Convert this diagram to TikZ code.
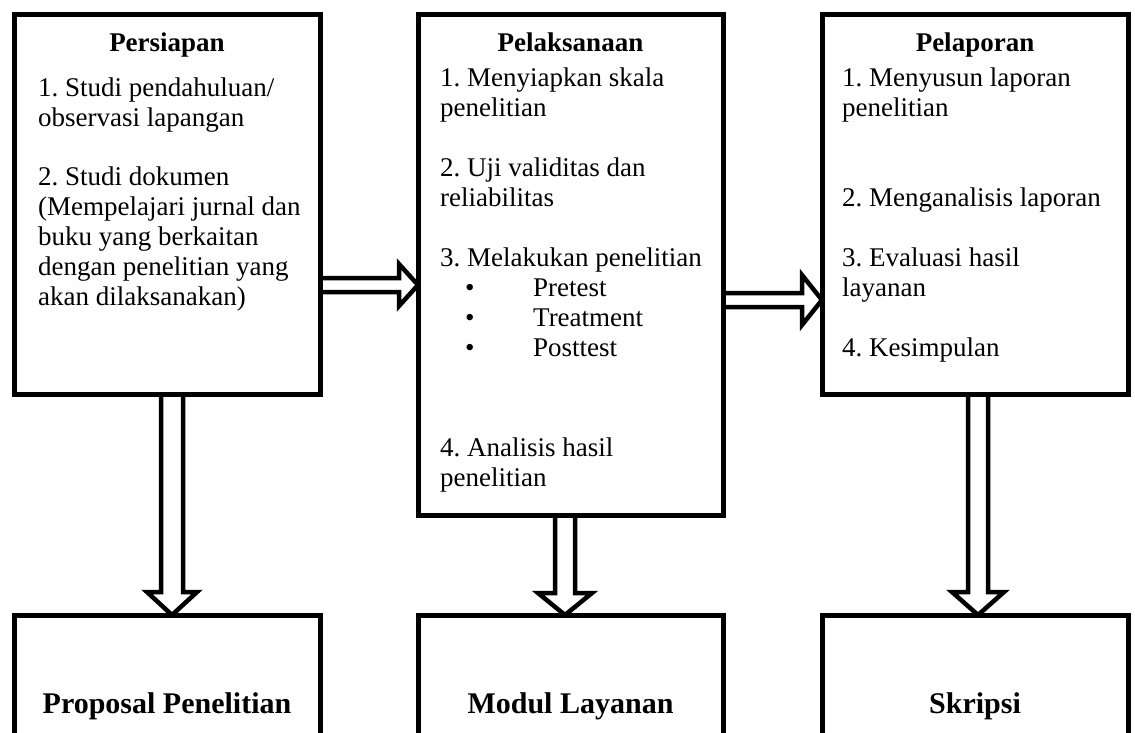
\documentclass[tikz,border=0pt]{standalone}
\usepackage{fontspec}
\setmainfont{Liberation Serif}
\usetikzlibrary{calc}
\frenchspacing
\begin{document}
\begin{tikzpicture}[x=1pt,y=-1pt,
  box/.style={draw, line width=5pt, outer sep=0pt, inner sep=0pt},
  hd/.style={font=\fontsize{27}{30}\selectfont\bfseries, anchor=base, inner sep=0pt},
  tx/.style={font=\fontsize{27}{30}\selectfont, anchor=base west, inner sep=0pt},
  bighd/.style={font=\fontsize{30}{34}\selectfont\bfseries, inner sep=0pt},
  harrow/.style n args={3}{line width=4.5pt, line join=miter,
    to path={++(0,-#1) -- ($(\tikztotarget)+(-#3,-#1)$) -- ++(0,{#1-#2}) -- (\tikztotarget)
      -- ++(-#3,#2) -- ++(0,{#1-#2}) -- ($(\tikztostart)+(0,#1)$)}},
  varrow/.style n args={3}{line width=4.5pt, line join=miter,
    to path={++(-#1,0) -- ($(\tikztotarget)+(-#1,-#3)$) -- ++({#1-#2},0) -- (\tikztotarget)
      -- ++(#2,-#3) -- ++({#1-#2},0) -- ($(\tikztostart)+(#1,0)$)}}
]
\useasboundingbox (0,0) rectangle (1135,732);
\clip (0,0) rectangle (1135,732);

% main boxes
\node[box, minimum width=306pt, minimum height=380pt] (b1) at (167,204) {};
\node[box, minimum width=305pt, minimum height=501pt] (b2) at (570.5,264.5) {};
\node[box, minimum width=306pt, minimum height=380pt] (b3) at (975,204) {};

% bottom boxes
\node[box, minimum width=306pt, minimum height=200pt] (p1) at (167,715) {};
\node[box, minimum width=305pt, minimum height=200pt] (p2) at (570.5,715) {};
\node[box, minimum width=306pt, minimum height=200pt] (p3) at (975,715) {};

% box 1 text
\node[hd] (h1) at (167,51) {Persiapan};
\node[tx] (a1) at (38,96) {1. Studi pendahuluan/};
\node[tx] (a2) at (38,126) {observasi lapangan};
\node[tx] (a3) at (38,185) {2. Studi dokumen};
\node[tx] (a4) at (38,215) {(Mempelajari jurnal dan};
\node[tx] (a5) at (38,245) {buku yang berkaitan};
\node[tx] (a6) at (38,275) {dengan penelitian yang};
\node[tx] (a7) at (38,305) {akan dilaksanakan)};

% box 2 text
\node[hd] (h2) at (570.5,51) {Pelaksanaan};
\node[tx] (c1) at (440,86) {1. Menyiapkan skala};
\node[tx] (c2) at (440,116) {penelitian};
\node[tx] (c3) at (440,176) {2. Uji validitas dan};
\node[tx] (c4) at (440,206) {reliabilitas};
\node[tx] (c5) at (440,266) {3. Melakukan penelitian};
\node[tx] (d1) at (465,296) {•};
\node[tx] (c6) at (533,296) {Pretest};
\node[tx] (d2) at (465,326) {•};
\node[tx] (c7) at (533,326) {Treatment};
\node[tx] (d3) at (465,356) {•};
\node[tx] (c8) at (533,356) {Posttest};
\node[tx] (c9) at (440,456) {4. Analisis hasil};
\node[tx] (c10) at (440,486) {penelitian};

% box 3 text
\node[hd] (h3) at (975,51) {Pelaporan};
\node[tx] (e1) at (842,86) {1. Menyusun laporan};
\node[tx] (e2) at (842,116) {penelitian};
\node[tx] (e3) at (842,206) {2. Menganalisis laporan};
\node[tx] (e4) at (842,266) {3. Evaluasi hasil};
\node[tx] (e5) at (842,296) {layanan};
\node[tx] (e6) at (842,356) {4. Kesimpulan};

% bottom texts
\node[bighd] (q1) at (167,706) {Proposal Penelitian};
\node[bighd] (q2) at (570.5,706) {Modul Layanan};
\node[bighd] (q3) at (975,706) {Skripsi};

% arrows
\draw[harrow={7}{21}{19}] ($(b1.east)+(0,81)$) to ($(b2.west)+(0,20.5)$);
\draw[harrow={7}{25}{20}] ($(b2.east)+(0,35.5)$) to ($(b3.west)+(0,96)$);
\draw[varrow={11}{25}{23}] ($(b1.south)+(5,0)$) to ($(p1.north)+(5,0)$);
\draw[varrow={10}{27}{22}] ($(b2.south)+(-5.5,0)$) to ($(p2.north)+(-5.5,0)$);
\draw[varrow={10}{26}{23}] ($(b3.south)+(3,0)$) to ($(p3.north)+(3,0)$);
\end{tikzpicture}
\end{document}
